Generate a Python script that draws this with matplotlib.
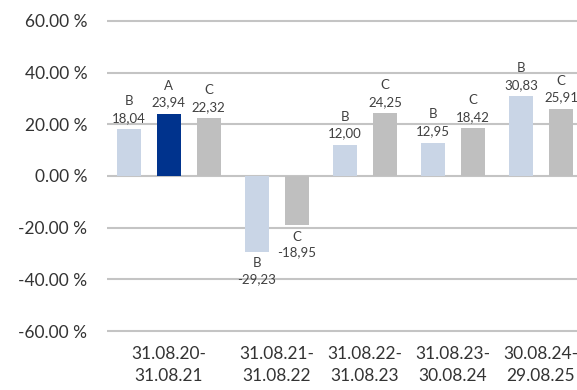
import matplotlib
matplotlib.use('Agg')
import matplotlib.pyplot as plt

# Periods and bar data
periods = ['31.08.20-\n31.08.21', '31.08.21-\n31.08.22', '31.08.22-\n31.08.23',
           '31.08.23-\n30.08.24', '30.08.24-\n29.08.25']
bar_group = [0, 0, 0, 1, 1, 2, 2, 3, 3, 4, 4]
bar_series = ['B', 'A', 'C', 'B', 'C', 'B', 'C', 'B', 'C', 'B', 'C']
bar_values = [18.04, 23.94, 22.32, -29.23, -18.95, 12.00, 24.25, 12.95, 18.42, 30.83, 25.91]

colors = {'A': '#00338d', 'B': '#c9d5e6', 'C': '#bfbfbf'}

plt.rcParams['font.family'] = ['Lato', 'DejaVu Sans']

fig = plt.figure(figsize=(5.77, 3.90), dpi=100)
ax = fig.add_axes([0.185, 0.138, 0.815, 0.8215])

# bars are packed within a group, with a small extra gap between groups
gap = 0.2
xs = [i + g * gap for i, g in enumerate(bar_group)]

for x, s, v in zip(xs, bar_series, bar_values):
    ax.bar(x, v, width=0.6, color=colors[s], zorder=3)
    lab = f'{s}\n' + f'{v:.2f}'.replace('.', ',')
    if v >= 0:
        ax.annotate(lab, (x, v), xytext=(0, 4), textcoords='offset points',
                    ha='center', va='bottom', fontsize=9.5, color='#404040',
                    linespacing=1.45)
    else:
        ax.annotate(lab, (x, v), xytext=(0, -4), textcoords='offset points',
                    ha='center', va='top', fontsize=9.5, color='#404040',
                    linespacing=1.4)

# group centres for the period labels
centres = []
for g in range(len(periods)):
    gx = [x for x, bg in zip(xs, bar_group) if bg == g]
    centres.append(sum(gx) / len(gx))

ax.set_xticks(centres)
ax.set_xticklabels(periods, fontsize=12.5, color='#333333', linespacing=1.45)
ax.set_yticks(range(-60, 61, 20))
ax.set_yticklabels([f'{t:.2f} %' for t in range(-60, 61, 20)], fontsize=12.5, color='#333333')
ax.set_xlim(-0.55, 11.2)
ax.set_ylim(-62, 62)

ax.grid(axis='y', color='#c4c4c4', lw=1.5, zorder=0)
for sp in ax.spines.values():
    sp.set_visible(False)
ax.tick_params(axis='both', length=0)
ax.tick_params(axis='y', pad=14)
ax.tick_params(axis='x', pad=7)

plt.savefig('out.png', dpi=100)
